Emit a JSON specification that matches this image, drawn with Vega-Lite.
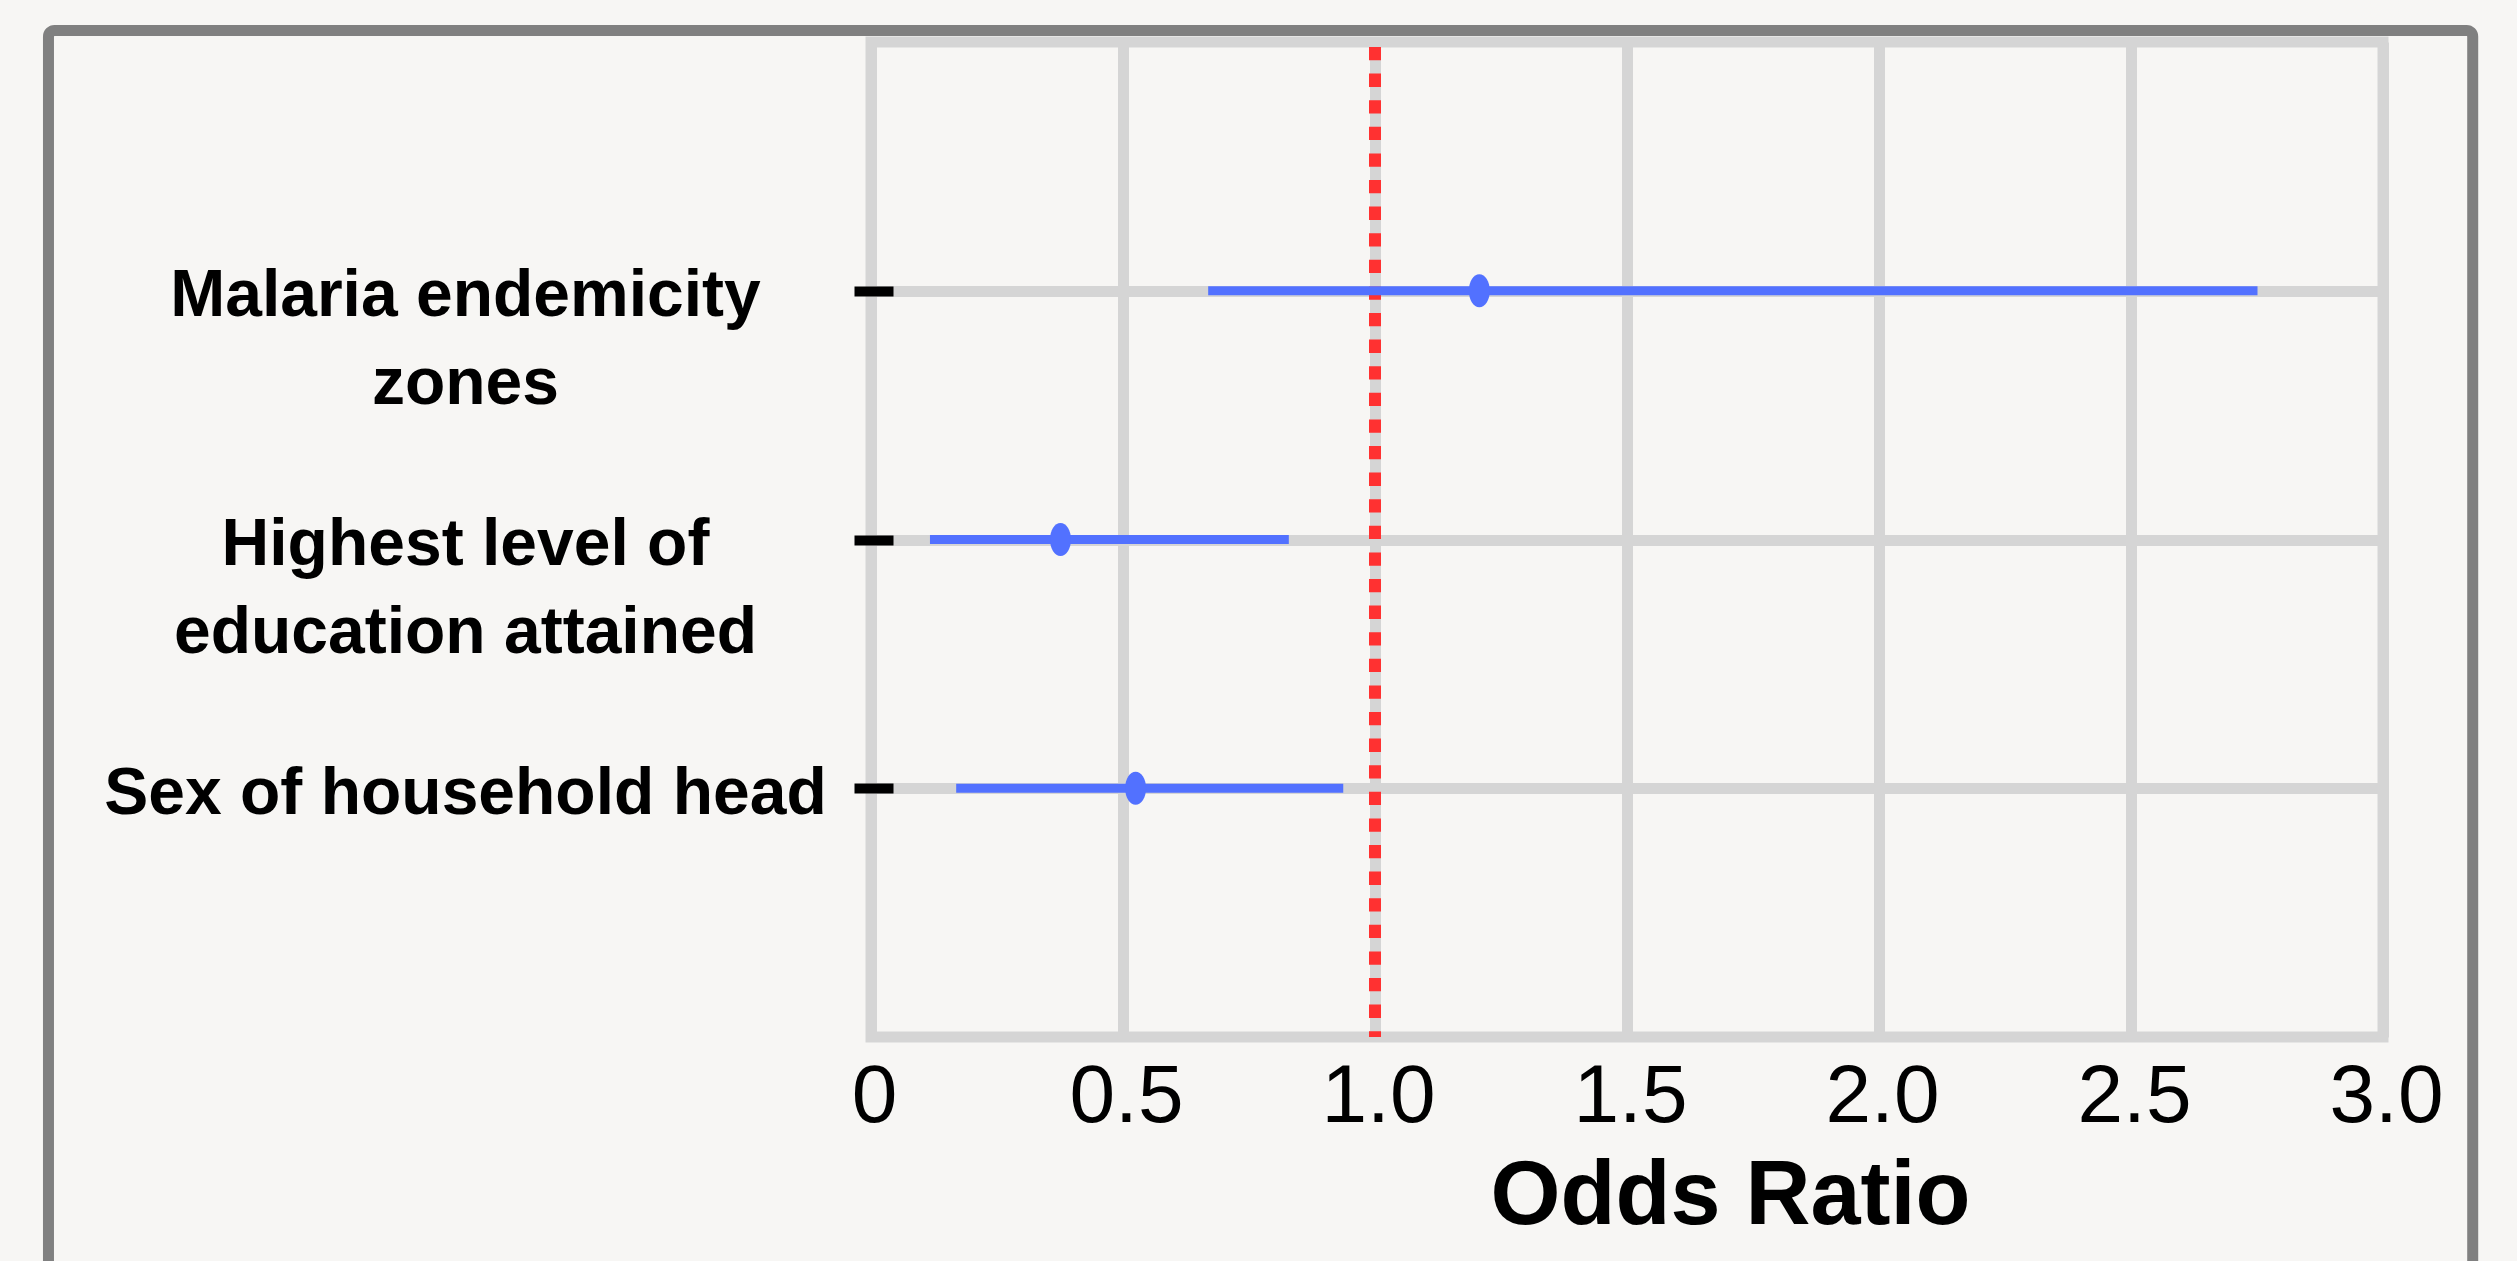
{
  "$schema": "https://vega.github.io/schema/vega-lite/v6.json",
  "width": 1512,
  "height": 995,
  "autosize": {"type": "none"},
  "padding": {"left": 871, "top": 42, "right": 134, "bottom": 224},
  "background": "#f7f6f4",
  "config": {
    "view": {"stroke": "#d5d5d5", "strokeWidth": 11, "fill": "#f7f6f4"},
    "font": "Liberation Sans"
  },
  "data": {
    "values": [
      {"variable": "Malaria endemicity zones", "or": 1.207, "lower": 0.669, "upper": 2.751},
      {"variable": "Highest level of education attained", "or": 0.376, "lower": 0.117, "upper": 0.829},
      {"variable": "Sex of household head", "or": 0.525, "lower": 0.169, "upper": 0.937}
    ]
  },
  "resolve": {"scale": {"y": "independent"}, "axis": {"y": "independent"}},
  "layer": [
    {
      "data": {"values": [{}]},
      "mark": {"type": "rect", "fill": "transparent", "stroke": "#808080", "strokeWidth": 11, "cornerRadius": 6, "clip": false},
      "encoding": {
        "x": {"datum": -1.632, "type": "quantitative"},
        "x2": {"datum": 3.178},
        "y": {"datum": 1.0116, "type": "quantitative", "scale": {"domain": [0, 1], "nice": false, "zero": false}, "axis": null},
        "y2": {"datum": -0.27}
      }
    },
    {
      "data": {"values": [{}]},
      "mark": {"type": "rule", "color": "#ff3131", "strokeWidth": 12, "strokeDash": [13.3, 13.3], "strokeDashOffset": -5},
      "encoding": {"x": {"datum": 1, "type": "quantitative"}}
    },
    {
      "layer": [
        {
          "mark": {"type": "rule", "color": "#5271ff", "strokeWidth": 9, "strokeCap": "butt"},
          "encoding": {
            "y": {
              "field": "variable",
              "type": "nominal",
              "sort": null,
              "scale": {"type": "point", "padding": 1, "domain": ["Malaria endemicity zones", "Highest level of education attained", "Sex of household head"]},
              "axis": {
                "orient": "left",
                "offset": -22,
                "title": null,
                "domain": false,
                "ticks": true,
                "tickColor": "#000000",
                "tickSize": 39,
                "tickWidth": 10,
                "grid": true,
                "gridColor": "#d5d5d5",
                "gridWidth": 11,
                "labelFont": "Liberation Sans",
                "labelFontSize": 66,
                "labelFontWeight": "bold",
                "labelColor": "#000000",
                "labelAlign": "center",
                "labelBaseline": "middle",
                "labelPadding": 389,
                "labelLimit": 2000,
                "labelLineHeight": 88,
                "labelOffset": 5,
                "labelExpr": "datum.label == 'Malaria endemicity zones' ? ['Malaria endemicity', 'zones'] : datum.label == 'Highest level of education attained' ? ['Highest level of', 'education attained'] : datum.label"
              }
            },
            "x": {
              "field": "lower",
              "type": "quantitative",
              "scale": {"domain": [0, 3], "nice": false, "zero": false},
              "axis": {
                "values": [0, 0.5, 1, 1.5, 2, 2.5, 3],
                "grid": true,
                "gridColor": "#d5d5d5",
                "gridWidth": 11,
                "domain": false,
                "ticks": false,
                "tickSize": 0,
                "labelFont": "Liberation Sans",
                "labelFontSize": 82,
                "labelColor": "#000000",
                "labelBaseline": "alphabetic",
                "labelPadding": 84,
                "labelOffset": 3,
                "labelFlush": false,
                "labelOverlap": false,
                "labelExpr": "datum.value == 0 ? '0' : format(datum.value, '.1f')",
                "title": "Odds Ratio",
                "titleFont": "Liberation Sans",
                "titleFontSize": 90,
                "titleFontWeight": "bold",
                "titleColor": "#000000",
                "titleX": 859,
                "titleY": 186,
                "titleAlign": "center",
                "titleBaseline": "alphabetic",
                "titleAnchor": "start"
              }
            },
            "x2": {"field": "upper"}
          }
        },
        {
          "mark": {
            "type": "point",
            "filled": true,
            "color": "#5271ff",
            "opacity": 1,
            "strokeWidth": 0,
            "size": 1089,
            "shape": "M0,-1C0.351,-1 0.636,-0.552 0.636,0C0.636,0.552 0.351,1 0,1C-0.351,1 -0.636,0.552 -0.636,0C-0.636,-0.552 -0.351,-1 0,-1Z"
          },
          "encoding": {
            "y": {"field": "variable", "type": "nominal", "sort": null},
            "x": {"field": "or", "type": "quantitative"}
          }
        }
      ]
    }
  ]
}
